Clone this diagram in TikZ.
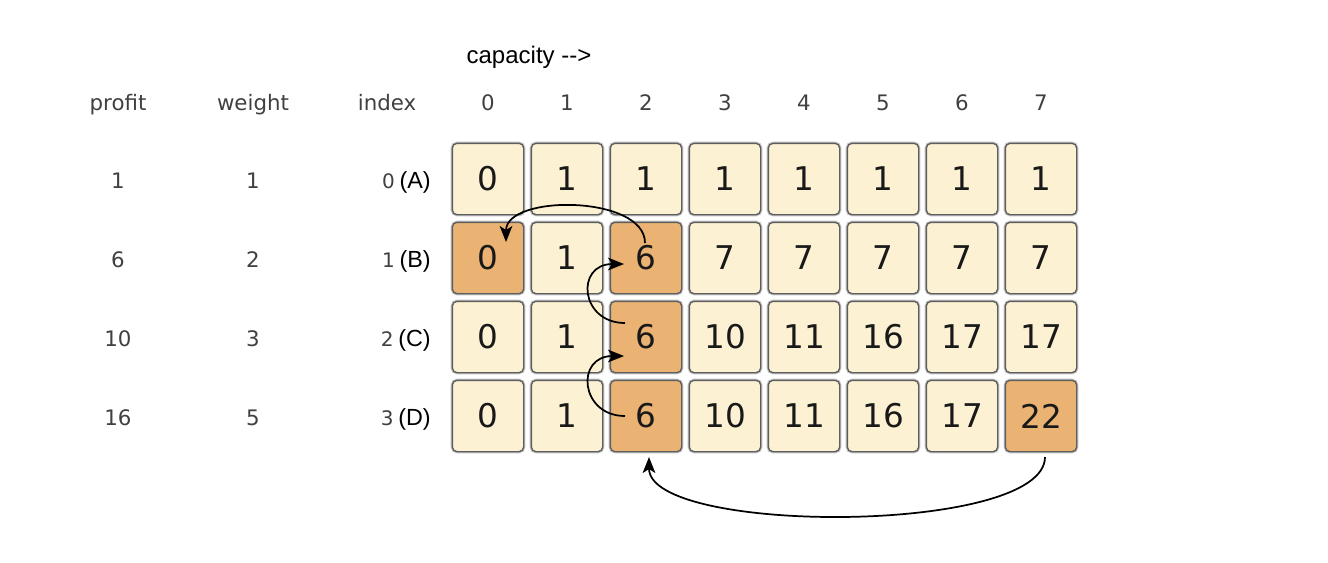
\documentclass[tikz,border=0pt]{standalone}
\usepackage{fontspec}
\newfontfamily\verd{DejaVu Sans}
\newfontfamily\arial{Liberation Sans}
\usetikzlibrary{arrows.meta}
\definecolor{cellfill}{HTML}{FCF1D2}
\definecolor{hifill}{HTML}{EAB374}
\definecolor{cellborder}{HTML}{5E5E5E}
\definecolor{halo}{HTML}{C4C4C4}
\definecolor{lbl}{HTML}{404040}
\tikzset{
  cellbox/.style={draw=cellborder, line width=1pt, fill=cellfill, rounded corners=3.5pt,
    minimum width=53.5pt, minimum height=53.5pt, inner sep=0pt,
    font=\verd\fontsize{24.5}{25}\selectfont, text=black!90,
    preaction={draw=halo, line width=2.6pt, rounded corners=4pt}},
  hicell/.style={cellbox, fill=hifill},
  hdr/.style={font=\verd\fontsize{16}{18}\selectfont, text=lbl, inner sep=0pt, anchor=base},
  arl/.style={font=\arial\fontsize{18}{20}\selectfont, text=black, inner sep=0pt, anchor=base},
  conn/.style={line width=1.3pt, -{Stealth[length=12pt, width=9.5pt, inset=3pt]}},
}
\begin{document}
\begin{tikzpicture}[x=0.75pt, y=-0.75pt]
\useasboundingbox (0,0) rectangle (1328,562);
% title
\node[arl] (cap) at (529,63) {capacity -{}->};
% headers
\node[hdr] (hp) at (118,110) {profit};
\node[hdr] (hw) at (253,110) {weight};
\node[hdr] (hi) at (387,110) {index};
\foreach \c in {0,...,7} {
  \node[hdr] (h\c) at (488+79*\c,110) {\c};
}
% row labels
\foreach \p/\w/\L [count=\r from 0] in {1/1/A,6/2/B,10/3/C,16/5/D} {
  \node[hdr] (p\r) at (118,188+79*\r) {\p};
  \node[hdr] (w\r) at (253,188+79*\r) {\w};
  \node[inner sep=0pt, anchor=base east] (i\r) at (431,188+79*\r)
    {{\verd\fontsize{15}{16}\selectfont\color{lbl}\r}\hspace{3.5pt}{\arial\fontsize{17.5}{19}\selectfont(\L)}};
}
% cells
\foreach \v [count=\k from 0] in {0,1,1,1,1,1,1,1} {
  \node[cellbox] (c-0-\k) at (488+79*\k,179) {\v};
}
\foreach \v [count=\k from 0] in {0,1,6,7,7,7,7,7} {
  \ifnum\k=0 \node[hicell] (c-1-\k) at (488+79*\k,258) {\v};
  \else\ifnum\k=2 \node[hicell] (c-1-\k) at (488+79*\k,258) {\v};
  \else \node[cellbox] (c-1-\k) at (488+79*\k,258) {\v};\fi\fi
}
\foreach \v [count=\k from 0] in {0,1,6,10,11,16,17,17} {
  \ifnum\k=2 \node[hicell] (c-2-\k) at (488+79*\k,337) {\v};
  \else \node[cellbox] (c-2-\k) at (488+79*\k,337) {\v};\fi
}
\foreach \v [count=\k from 0] in {0,1,6,10,11,16,17,22} {
  \ifnum\k=2 \node[hicell] (c-3-\k) at (488+79*\k,416) {\v};
  \else\ifnum\k=7 \node[hicell] (c-3-\k) at (488+79*\k,416) {\v};
  \else \node[cellbox] (c-3-\k) at (488+79*\k,416) {\v};\fi\fi
}
% connectors
\draw[conn] ([shift={(-1,-15)}]c-1-2.center) .. controls +(0,-48) and +(0,-48) .. ([shift={(18,-16)}]c-1-0.center);
\draw[conn] ([shift={(-21,-14)}]c-2-2.center) .. controls +(-45,0) and +(-49,0) .. ([shift={(-22,6)}]c-1-2.center);
\draw[conn] ([shift={(-21,0)}]c-3-2.center) .. controls +(-45,0) and +(-49,0) .. ([shift={(-22,19)}]c-2-2.center);
\draw[conn] ([shift={(4,41)}]c-3-7.center) .. controls +(0,78) and +(0,78) .. ([shift={(3,41)}]c-3-2.center);
\end{tikzpicture}
\end{document}
